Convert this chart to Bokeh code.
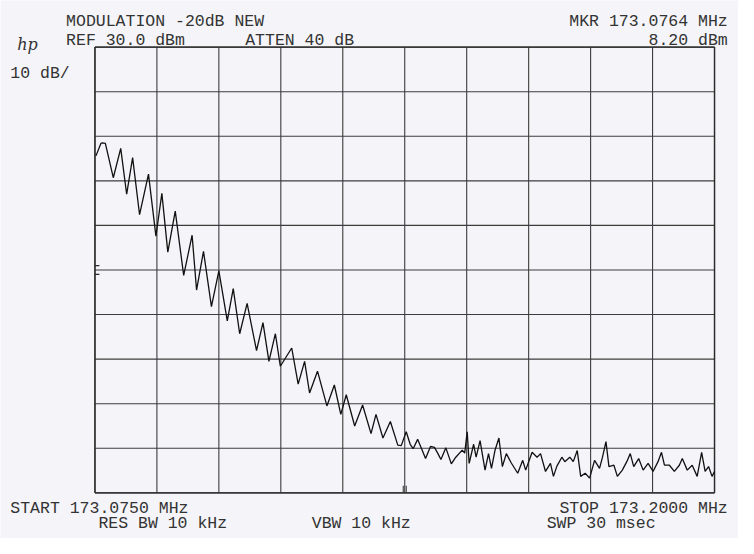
from bokeh.plotting import figure
from bokeh.models import Label, Range1d
from bokeh.embed import file_html
from bokeh.resources import INLINE

# ---- data ----
start_mhz = 173.0750
stop_mhz = 173.2000
center_mhz = 173.1375
ref_dbm = 30.0
db_per_div = 10.0
n_div = 10
mod_level_db = -20.0

# frequency offset from START in kHz, trace level in dBm
freq_khz = [0.2, 1.2, 1.5, 2.1, 3.7, 5.2, 6.4, 7.6, 9.0, 10.8, 12.3, 13.5, 14.7, 16.2,
            17.9, 19.6, 20.5, 21.9, 23.5, 25.0, 26.7, 27.9, 29.2, 30.7, 32.6, 33.9,
            35.1, 36.4, 37.4, 39.7, 41.0, 42.3, 43.3, 44.9, 46.8, 48.3, 49.6, 50.7,
            52.4, 54.0, 55.7, 56.7, 58.1, 59.6, 61.1, 61.8, 62.8, 63.6, 64.2, 65.1,
            65.9, 66.7, 67.7, 68.5, 69.2, 69.8, 70.8, 71.9, 72.8, 74.1, 74.6, 75.1,
            75.5, 76.4, 76.9, 77.7, 78.7, 79.4, 80.0, 80.7, 81.5, 82.2, 83.0, 84.0,
            85.3, 86.3, 86.9, 88.2, 89.2, 89.9, 90.9, 91.9, 92.5, 93.2, 94.2, 94.8,
            95.8, 96.5, 97.3, 98.0, 98.9, 99.8, 100.8, 101.8, 102.4, 103.1, 103.7,
            104.7, 105.4, 106.4, 107.3, 108.0, 108.7, 109.7, 110.6, 111.6, 112.6,
            113.6, 114.3, 114.9, 115.9, 116.9, 117.9, 118.5, 119.5, 120.5, 121.5,
            122.4, 123.1, 123.8, 124.5, 125.0]
level_dbm = [5.6, 8.4, 8.5, 8.4, 0.7, 7.3, -3.0, 5.2, -7.6, 1.5, -12.4, -2.8, -16.0, -6.8,
             -21.2, -12.2, -24.5, -15.8, -28.2, -20.2, -31.4, -24.2, -34.3, -27.5, -38.1, -31.8,
             -40.5, -34.3, -41.6, -37.5, -45.6, -40.5, -47.6, -42.7, -50.5, -45.8, -52.4, -48.0,
             -55.0, -50.3, -56.7, -52.4, -57.7, -54.0, -59.3, -59.4, -56.3, -59.1, -60.1, -58.0,
             -60.1, -62.3, -59.6, -59.8, -61.2, -62.5, -59.9, -63.5, -62.0, -60.4, -61.1, -56.3,
             -63.4, -59.1, -62.0, -58.3, -64.9, -61.2, -64.5, -60.5, -57.7, -64.1, -61.2, -63.3,
             -65.6, -62.7, -64.9, -60.9, -62.0, -61.2, -65.2, -63.4, -66.3, -64.0, -62.0, -63.0,
             -62.0, -63.0, -60.5, -66.3, -65.6, -66.7, -62.7, -64.5, -62.0, -58.5, -64.1,
             -63.8, -66.3, -64.9, -63.0, -61.2, -64.1, -62.3, -64.9, -63.4, -65.2,
             -63.0, -60.9, -63.8, -63.8, -65.2, -63.8, -62.3, -64.9, -63.8, -66.3,
             -60.9, -65.2, -64.1, -66.3, -65.2]

header_left = ["MODULATION -20dB NEW", "REF 30.0 dBm"]
header_mid = "ATTEN 40 dB"
header_right = ["MKR 173.0764 MHz", "8.20 dBm"]
scale_text = "10 dB/"
footer = ["START 173.0750 MHz", "STOP 173.2000 MHz", "RES BW 10 kHz", "VBW 10 kHz", "SWP 30 msec"]

freq_mhz = [start_mhz + f / 1000.0 for f in freq_khz]
bottom_dbm = ref_dbm - db_per_div * n_div
xt = [start_mhz + i * (stop_mhz - start_mhz) / n_div for i in range(n_div + 1)]
yt = [bottom_dbm + i * db_per_div for i in range(n_div + 1)]

# ---- layout: the whole canvas is the plotting frame, scaled from a 754x554 sheet ----
W, H = 738, 538
SX, SY = W / 754.0, H / 554.0

def rx(px):
    return px * SX

def ry(py):
    return py * SY

GX0, GX1 = rx(96.5), rx(729.5)     # grid left / right in pixels
GY0, GY1 = ry(48.0), ry(507.0)     # grid top / bottom in pixels
kx = (stop_mhz - start_mhz) / (GX1 - GX0)
ky = (ref_dbm - bottom_dbm) / (GY1 - GY0)

paper = "#f5f5f9"
ink = "#333333"

p = figure(width=W, height=H, output_backend="svg", toolbar_location=None,
           x_axis_type=None, y_axis_type=None,
           x_range=Range1d(start_mhz - GX0 * kx, start_mhz + (W - GX0) * kx),
           y_range=Range1d(ref_dbm - (H - GY0) * ky, ref_dbm + GY0 * ky),
           min_border=0, min_border_left=0, min_border_right=0,
           min_border_top=0, min_border_bottom=0)
p.background_fill_color = paper
p.border_fill_color = paper
p.outline_line_color = None
p.grid.visible = False

# grid (10 x 10 divisions)
p.segment(x0=xt, y0=[bottom_dbm] * len(xt), x1=xt, y1=[ref_dbm] * len(xt),
          line_color="#3c3c3c", line_width=1.1)
p.segment(x0=[start_mhz] * len(yt), y0=yt, x1=[stop_mhz] * len(yt), y1=yt,
          line_color="#3c3c3c", line_width=1.1)
p.segment(x0=[start_mhz, stop_mhz], y0=[bottom_dbm, bottom_dbm],
          x1=[start_mhz, stop_mhz], y1=[ref_dbm, ref_dbm], line_color="#2a2a2a", line_width=1.4)
p.segment(x0=[start_mhz, start_mhz], y0=[bottom_dbm, ref_dbm],
          x1=[stop_mhz, stop_mhz], y1=[bottom_dbm, ref_dbm], line_color="#2a2a2a", line_width=1.4)

# small analyser marks: centre-frequency tick at the bottom, level ticks at the left
dxm = 0.0003
p.segment(x0=[center_mhz - dxm, center_mhz + dxm], y0=[bottom_dbm] * 2,
          x1=[center_mhz - dxm, center_mhz + dxm], y1=[bottom_dbm + 1.6] * 2,
          line_color="#2a2a2a", line_width=1.0)
p.segment(x0=[start_mhz] * 2, y0=[mod_level_db + 1.0, mod_level_db - 1.0],
          x1=[start_mhz + 0.0009] * 2, y1=[mod_level_db + 1.0, mod_level_db - 1.0],
          line_color="#2a2a2a", line_width=1.2)

# trace
p.line(freq_mhz, level_dbm, line_color="#111111", line_width=1.3)

# ---- texts ----
def dx(px):
    return start_mhz + (rx(px) - GX0) * kx

def dy(py):
    return ref_dbm - (ry(py) - GY0) * ky

FONT = "Liberation Mono"
FS = "16.5px"

def lab(px, py, text, align="left"):
    p.add_layout(Label(x=dx(px), y=dy(py), text=text, text_font=FONT, text_font_size=FS,
                       text_color=ink, text_align=align, text_baseline="alphabetic"))

lab(67, 22, header_left[0])
lab(67, 41, header_left[1])
lab(250, 41, header_mid)
lab(743, 22, header_right[0], "right")
lab(743, 41, header_right[1], "right")
lab(10, 75, scale_text)
lab(10, 523, footer[0])
lab(743, 523, footer[1], "right")
lab(100, 539, footer[2])
lab(318, 539, footer[3])
lab(558, 539, footer[4])

p.add_layout(Label(x=dx(17), y=dy(45), text="hp", text_font="DejaVu Serif",
                   text_font_style="italic", text_font_size="16px", text_color=ink,
                   text_baseline="alphabetic"))

open("out.html", "w").write(file_html(p, INLINE))
